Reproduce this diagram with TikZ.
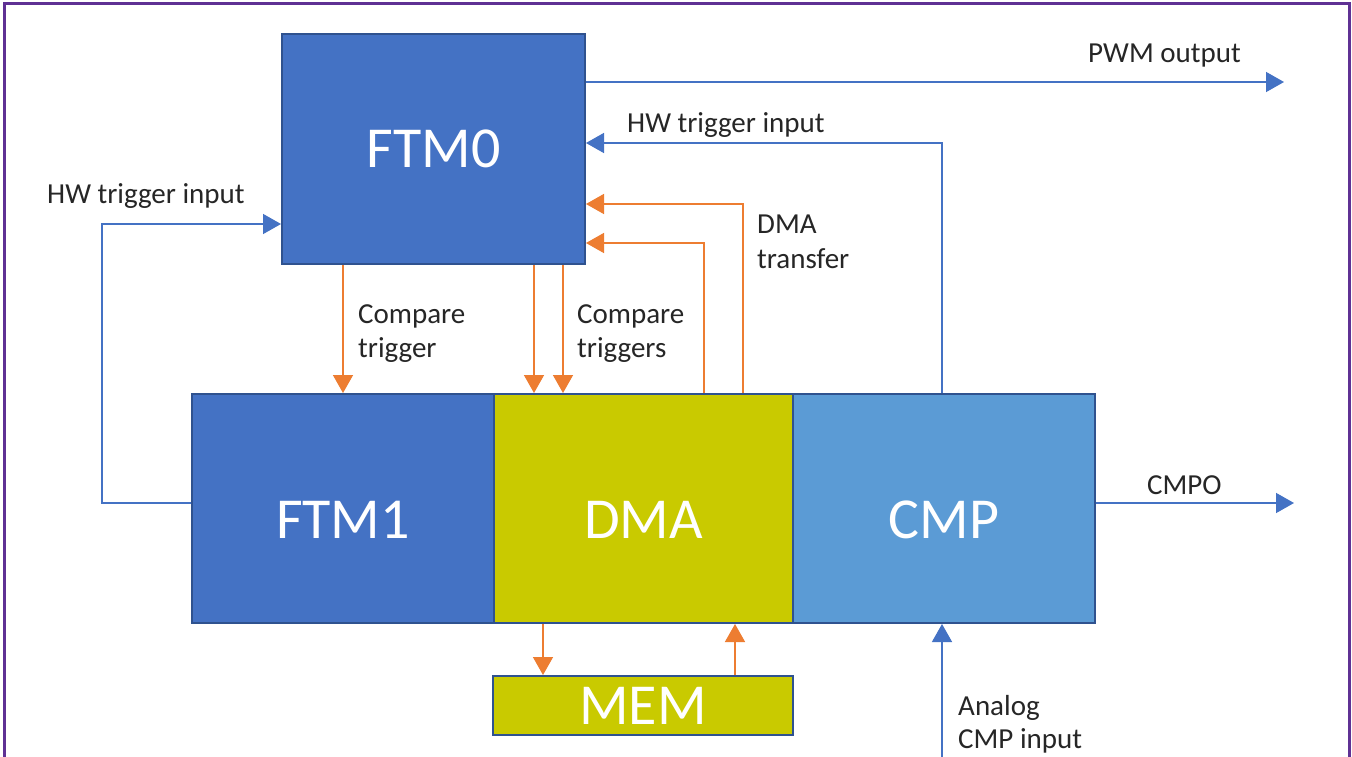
\documentclass[tikz,border=0pt]{standalone}
\usepackage{fontspec}
\setmainfont{Carlito}
\usetikzlibrary{arrows.meta}
\definecolor{boxblue}{HTML}{4472C4}
\definecolor{boxedge}{HTML}{2F528F}
\definecolor{cmpblue}{HTML}{5B9BD5}
\definecolor{dmayel}{HTML}{C9CA00}
\definecolor{arrorange}{HTML}{ED7D31}
\definecolor{lineblue}{HTML}{4472C4}
\definecolor{framepurple}{HTML}{5F3194}
\begin{document}
\begin{tikzpicture}[x=1pt,y=-1pt,
  blockbox/.style={draw=boxedge,line width=2pt,anchor=north west,inner sep=0pt,
    text=white,font=\fontsize{58}{70}\selectfont},
  lowtext/.style={text height=60pt},
  lbl/.style={anchor=base west,inner sep=0pt,text=black!85,font=\fontsize{29}{34}\selectfont},
  bluearrow/.style={draw=lineblue,line width=1.5pt,-{Triangle[length=18pt,width=20pt]}},
  bluewire/.style={draw=lineblue,line width=1.5pt},
  orangearrow/.style={draw=arrorange,line width=1.5pt,-{Triangle[length=18pt,width=20pt]}},
]
\useasboundingbox (0,0) rectangle (1352,757);
\fill[white] (0,0) rectangle (1352,757);
% frame
\draw[framepurple,line width=3pt] (4,780) -- (4,4) -- (1349,4) -- (1349,780);

% blocks
\node[blockbox,fill=boxblue,minimum width=303pt,minimum height=230pt] (ftm0) at (281,33) {FTM0};
\node[blockbox,lowtext,fill=boxblue,minimum width=302pt,minimum height=229pt] (ftm1) at (191,393) {FTM1};
\node[blockbox,lowtext,fill=dmayel,minimum width=299pt,minimum height=229pt] (dma) at (493,393) {DMA};
\node[blockbox,lowtext,fill=cmpblue,minimum width=302pt,minimum height=229pt] (cmp) at (792,393) {CMP};
\node[blockbox,fill=dmayel,minimum width=300pt,minimum height=59pt] (mem) at (492,675) {MEM};

% free ends
\coordinate (pwmend) at (1284,82);
\coordinate (cmpoend) at (1294,503);
\coordinate (analogstart) at (942,757);

% blue connectors
\draw[bluearrow] (ftm0.east |- pwmend) -- (pwmend);
\draw[bluearrow] (cmp.north -| 942,0) -- (942,143) -- (ftm0.east |- 0,143);
\draw[bluearrow] (ftm1.west |- 0,503) -- (102,503) -- (102,224) -- (ftm0.west |- 0,224);
\draw[bluearrow] (cmp.east |- cmpoend) -- (cmpoend);
\draw[bluearrow] (analogstart) -- (analogstart |- cmp.south);

% orange connectors
\draw[orangearrow] (ftm0.south -| 343,0) -- (ftm1.north -| 343,0);
\draw[orangearrow] (ftm0.south -| 534,0) -- (dma.north -| 534,0);
\draw[orangearrow] (ftm0.south -| 563,0) -- (dma.north -| 563,0);
\draw[orangearrow] (dma.north -| 704,0) -- (704,243) -- (ftm0.east |- 0,243);
\draw[orangearrow] (dma.north -| 743,0) -- (743,204) -- (ftm0.east |- 0,204);
\draw[orangearrow] (dma.south -| 543,0) -- (mem.north -| 543,0);
\draw[orangearrow] (mem.north -| 735,0) -- (dma.south -| 735,0);

% labels
\node[lbl] (l1) at (1088,63) {PWM output};
\node[lbl] (l2) at (627,133) {HW trigger input};
\node[lbl] (l3) at (47,203) {HW trigger input};
\node[lbl] (l4) at (757,233) {DMA};
\node[lbl] (l5) at (757,268) {transfer};
\node[lbl] (l6) at (358,323) {Compare};
\node[lbl] (l7) at (358,357) {trigger};
\node[lbl] (l8) at (577,323) {Compare};
\node[lbl] (l9) at (577,357) {triggers};
\node[lbl] (l10) at (1147,494) {CMPO};
\node[lbl] (l11) at (958,715) {Analog};
\node[lbl] (l12) at (958,748) {CMP input};
\end{tikzpicture}
\end{document}
